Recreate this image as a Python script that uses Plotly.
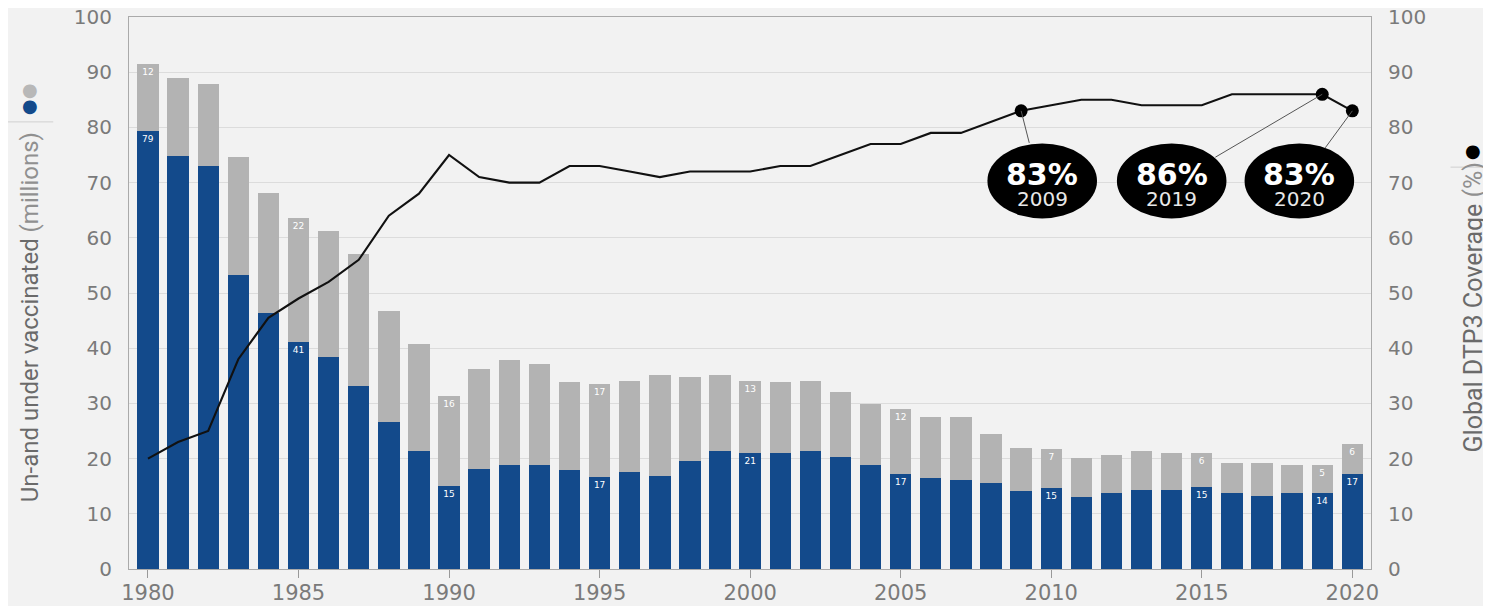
import plotly.graph_objects as go

years = list(range(1980, 2021))
blue_vals = [79.4, 74.8, 73.0, 53.2, 46.4, 41.1, 38.4, 33.2, 26.6, 21.4,
             15.1, 18.2, 18.9, 18.9, 17.9, 16.6, 17.5, 16.8, 19.6, 21.3,
             21.0, 21.0, 21.3, 20.3, 18.9, 17.2, 16.5, 16.1, 15.5, 14.1,
             14.7, 13.0, 13.7, 14.4, 14.4, 14.8, 13.7, 13.3, 13.7, 13.7,
             17.2]
gray_vals = [12.0, 14.1, 14.9, 21.5, 21.8, 22.5, 22.8, 23.9, 20.1, 19.3,
             16.3, 18.0, 19.0, 18.3, 15.9, 16.9, 16.6, 18.3, 15.2, 13.8,
             13.1, 12.8, 12.8, 11.8, 11.0, 11.7, 11.0, 11.4, 8.9, 7.9,
             7.0, 7.2, 6.9, 6.9, 6.6, 6.2, 5.5, 5.9, 5.1, 5.1,
             5.5]
coverage = [20, 23, 25, 38, 45.5, 49, 52, 56, 64, 68,
            75, 71, 70, 70, 73, 73, 72, 71, 72, 72,
            72, 73, 73, 75, 77, 77, 79, 79, 81, 83,
            84, 85, 85, 84, 84, 84, 86, 86, 86, 86,
            83]
label_years = [1980, 1985, 1990, 1995, 2000, 2005, 2010, 2015, 2019, 2020]
blue_labels = ["79", "41", "15", "17", "21", "17", "15", "15", "14", "17"]
gray_labels = ["12", "22", "16", "17", "13", "12", "7", "6", "5", "6"]
highlight_years = [2009, 2019, 2020]
callout_pct = ["83%", "86%", "83%"]
callout_year = ["2009", "2019", "2020"]
x_ticks = [1980, 1985, 1990, 1995, 2000, 2005, 2010, 2015, 2020]

BLUE = "#134a8b"
GRAY = "#b3b3b3"
TICK = "#7a7a7a"
FONT = "DejaVu Sans"
TFONT = "Roboto"

blue_text = [blue_labels[label_years.index(y)] if y in label_years else "" for y in years]
gray_text = [gray_labels[label_years.index(y)] if y in label_years else "" for y in years]

fig = go.Figure()
fig.add_trace(go.Bar(x=years, y=blue_vals, marker_color=BLUE, marker_line_width=0,
                     text=blue_text, textposition="inside", insidetextanchor="end",
                     textfont=dict(color="white", size=9, family=FONT), textangle=0,
                     showlegend=False, hoverinfo="skip"))
fig.add_trace(go.Bar(x=years, y=gray_vals, marker_color=GRAY, marker_line_width=0,
                     text=gray_text, textposition="inside", insidetextanchor="end",
                     textfont=dict(color="white", size=9, family=FONT), textangle=0,
                     showlegend=False, hoverinfo="skip"))
fig.add_trace(go.Scatter(x=years, y=coverage, mode="lines", yaxis="y2",
                         line=dict(color="#111111", width=2.1), showlegend=False))

# callouts
ell_centers = [2009.7, 2014.0, 2018.24]
ell_hw, ell_cy, ell_hh = 1.82, 70.3, 6.8
attach = [(2009.27, 77.2), (2015.45, 74.6), (2019.1, 76.3)]
shapes = []
annotations = []
for i, hy in enumerate(highlight_years):
    cov = coverage[years.index(hy)]
    shapes.append(dict(type="line", xref="x", yref="y2", x0=hy, y0=cov,
                       x1=attach[i][0], y1=attach[i][1],
                       line=dict(color="#555555", width=1), layer="above"))
    cx = ell_centers[i]
    shapes.append(dict(type="circle", xref="x", yref="y2",
                       x0=cx - ell_hw, x1=cx + ell_hw, y0=ell_cy - ell_hh, y1=ell_cy + ell_hh,
                       fillcolor="black", line=dict(color="black", width=0), layer="above"))
    annotations.append(dict(x=cx, y=71.5, xref="x", yref="y2", text="<b>" + callout_pct[i] + "</b>",
                            xanchor="center", yanchor="middle",
                            showarrow=False, font=dict(color="white", size=30, family=FONT)))
    annotations.append(dict(x=cx, y=67.1, xref="x", yref="y2", text=callout_year[i],
                            xanchor="center", yanchor="middle",
                            showarrow=False, font=dict(color="#e8e8e8", size=20, family=FONT)))

fig.add_trace(go.Scatter(x=highlight_years, y=[coverage[years.index(y)] for y in highlight_years],
                         mode="markers", yaxis="y2",
                         marker=dict(color="black", size=13), showlegend=False))

# axis titles & legend dots
annotations += [
    dict(x=-0.0797, y=0.456, xref="paper", yref="paper", textangle=-90, showarrow=False,
         xanchor="center", yanchor="middle",
         text="Un-and under vaccinated <span style='color:#909090'>(millions)</span>",
         font=dict(color="#6a6a6a", size=24, family=TFONT)),
    dict(x=-0.0797, y=0.868, xref="paper", yref="paper", showarrow=False, text="●",
         xanchor="center", yanchor="middle",
         font=dict(color="#b8b8b8", size=18, family=FONT)),
    dict(x=-0.0797, y=0.840, xref="paper", yref="paper", showarrow=False, text="●",
         xanchor="center", yanchor="middle",
         font=dict(color=BLUE, size=18, family=FONT)),
    dict(x=1.0822, y=0.474, xref="paper", yref="paper", textangle=-90, showarrow=False,
         xanchor="center", yanchor="middle",
         text="Global DTP3 Coverage <span style='color:#909090'>(%)</span>",
         font=dict(color="#6a6a6a", size=25, family=TFONT)),
    dict(x=1.0822, y=0.759, xref="paper", yref="paper", showarrow=False, text="●",
         xanchor="center", yanchor="middle",
         font=dict(color="black", size=18, family=FONT)),
]
shapes += [
    dict(type="line", xref="paper", yref="paper", x0=-0.101, x1=-0.061, y0=0.810, y1=0.810,
         line=dict(color="#d0d0d0", width=1)),
    dict(type="line", xref="paper", yref="paper", x0=1.064, x1=1.096, y0=0.728, y1=0.728,
         line=dict(color="#d0d0d0", width=1)),
]

# page has an 8px body margin: figure is offset by 8px, so size and margins compensate
fig.update_layout(
    width=1483, height=598,
    barmode="stack", bargap=0.29,
    paper_bgcolor="#f2f2f2", plot_bgcolor="#f2f2f2",
    margin=dict(l=121, r=120, t=9, b=37, autoexpand=False),
    shapes=shapes, annotations=annotations,
    xaxis=dict(range=[1979.37, 2020.62], tickvals=x_ticks, ticks="outside", ticklen=8,
               tickcolor="#999999", showgrid=False, showline=True, linecolor="#aaaaaa",
               mirror=True, zeroline=False, automargin=False, ticklabeloverflow="allow",
               ticklabelstandoff=-3,
               tickfont=dict(color=TICK, size=21, family=FONT)),
    yaxis=dict(range=[0, 100], dtick=10, gridcolor="#dcdcdc", gridwidth=1,
               showline=True, linecolor="#aaaaaa", zeroline=False, ticks="", automargin=False,
               ticklabeloverflow="allow",
               ticklabelstandoff=12, tickfont=dict(color=TICK, size=20, family=FONT)),
    yaxis2=dict(range=[0, 100], dtick=10, overlaying="y", side="right", showgrid=False,
                showline=True, linecolor="#aaaaaa", zeroline=False, ticks="", automargin=False,
                ticklabeloverflow="allow",
                ticklabelstandoff=12, tickfont=dict(color=TICK, size=20, family=FONT)),
)

fig.write_html("out.html")
